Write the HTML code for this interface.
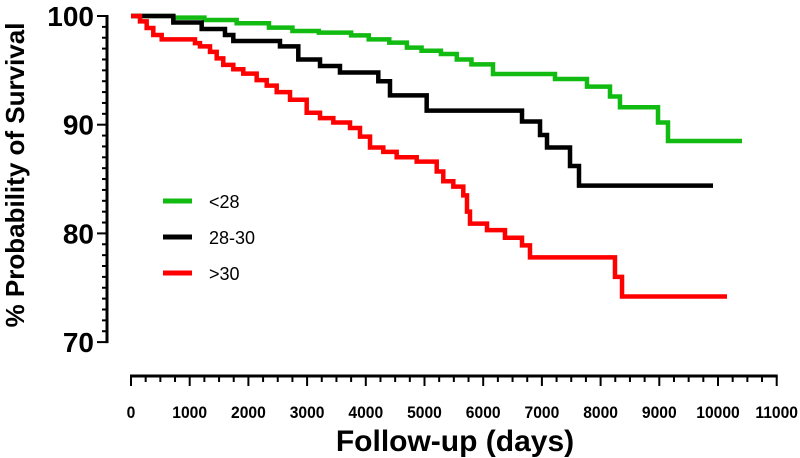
<!DOCTYPE html>
<html><head><meta charset="utf-8"><style>
body{margin:0;background:#fff;}
svg{display:block;font-family:"Liberation Sans",Arial,sans-serif;}
</style></head><body>
<svg id="chart" width="800" height="458" viewBox="0 0 800 458">
<g id="axes"></g>
<g id="series"></g>
<g>
 <line x1="163" y1="201" x2="192" y2="201" stroke="#11bb11" stroke-width="5"/>
 <text x="209" y="208" font-size="18">&lt;28</text>
 <line x1="163" y1="237" x2="192" y2="237" stroke="#000" stroke-width="5"/>
 <text x="209" y="244" font-size="18">28-30</text>
 <line x1="163" y1="273" x2="192" y2="273" stroke="#ff0000" stroke-width="5"/>
 <text x="209" y="280" font-size="18">&gt;30</text>
</g>
<text x="455" y="451" font-size="30" font-weight="bold" text-anchor="middle">Follow-up (days)</text>
<text transform="translate(24,175) rotate(-90)" font-size="26" font-weight="bold" text-anchor="middle">% Probability of Survival</text>
</svg>
<script>
const xTicks=[0,1000,2000,3000,4000,5000,6000,7000,8000,9000,10000,11000];
const yTicks=[70,80,90,100];
const greenDays=[0,720,1250,1800,2350,2750,3200,3750,4050,4400,4700,4950,5280,5550,5800,6167,7223,7768,8160,8330,8978,9148,10409];
const greenVals=[100,99.85,99.63,99.33,98.93,98.62,98.47,98.22,97.85,97.55,97.09,96.8,96.5,96.0,95.55,94.66,94.2,93.5,92.6,91.6,90.2,88.5,88.5];
const blackDays=[0,721,1204,1601,1743,2538,2850,3220,3560,4213,4412,5037,6661,6968,7087,7479,7632,9915];
const blackVals=[100,99.4,98.8,98.25,97.7,97.2,96.0,95.4,94.8,94.0,92.7,91.3,90.3,89.05,87.9,86.2,84.4,84.4];
const redDays=[0,153,267,380,523,1090,1175,1346,1460,1572,1743,1913,2141,2312,2482,2709,2993,3220,3447,3731,3901,4072,4298,4526,4867,5208,5320,5491,5661,5724,5775,6065,6371,6661,6797,8245,8365,10153];
const redVals=[100,99.5,98.9,98.25,97.85,97.5,97.2,96.7,96.1,95.5,95.1,94.7,94.1,93.6,93.0,92.3,91.1,90.6,90.2,89.7,88.9,87.9,87.5,87.0,86.6,85.7,84.8,84.3,83.5,82.0,80.9,80.3,79.6,78.9,77.8,76.0,74.2,74.2];

const NS="http://www.w3.org/2000/svg";
const X=d=>131+d*0.0587;
const Y=v=>16+(100-v)*10.87;
const axes=document.getElementById('axes'), series=document.getElementById('series');
function mk(tag,attrs,parent){const e=document.createElementNS(NS,tag);for(const k in attrs)e.setAttribute(k,attrs[k]);parent.appendChild(e);return e;}

let yAxis=mk('line',{x1:107,y1:Y(100)-1,x2:107,y2:Y(70)+1,stroke:'#000','stroke-width':3},axes);


for(let v=70;v<=100;v++){
  const major=v%10===0;
  const t=mk('line',{x1:major?97:102,y1:Y(v),x2:107,y2:Y(v),stroke:'#000','stroke-width':2},axes);
  
  
}
yTicks.forEach(v=>{
  const t=mk('text',{x:94,y:Y(v)+10,'font-size':28,'font-weight':'bold','text-anchor':'end'},axes);
  t.textContent=v;
  
  
});
let xAxis=mk('line',{x1:X(0)-1,y1:376,x2:X(11000)+1,y2:376,stroke:'#000','stroke-width':3},axes);


for(let d=0;d<=11000;d+=250){
  const major=d%1000===0;
  const t=mk('line',{x1:X(d),y1:376,x2:X(d),y2:major?386:382,stroke:'#000','stroke-width':2},axes);
  
  
}
xTicks.forEach(d=>{
  const t=mk('text',{x:X(d),y:418,'font-size':17,'font-weight':'bold','text-anchor':'middle',transform:'translate('+X(d)+',0) scale(0.92,1) translate('+(-X(d))+',0)'},axes);
  t.textContent=d;
  
  
});
function stepPath(days,vals){
  let p='M'+X(days[0])+','+Y(vals[0]);
  for(let i=1;i<days.length;i++){p+=' H'+X(days[i])+' V'+Y(vals[i]);}
  return p;
}
const g=mk('path',{d:stepPath(greenDays,greenVals),fill:'none',stroke:'#11bb11','stroke-width':4.5},series);


const b=mk('path',{d:stepPath(blackDays,blackVals),fill:'none',stroke:'#000','stroke-width':4.5},series);


const r=mk('path',{d:stepPath(redDays,redVals),fill:'none',stroke:'#ff0000','stroke-width':4.5},series);


</script>
</body></html>
